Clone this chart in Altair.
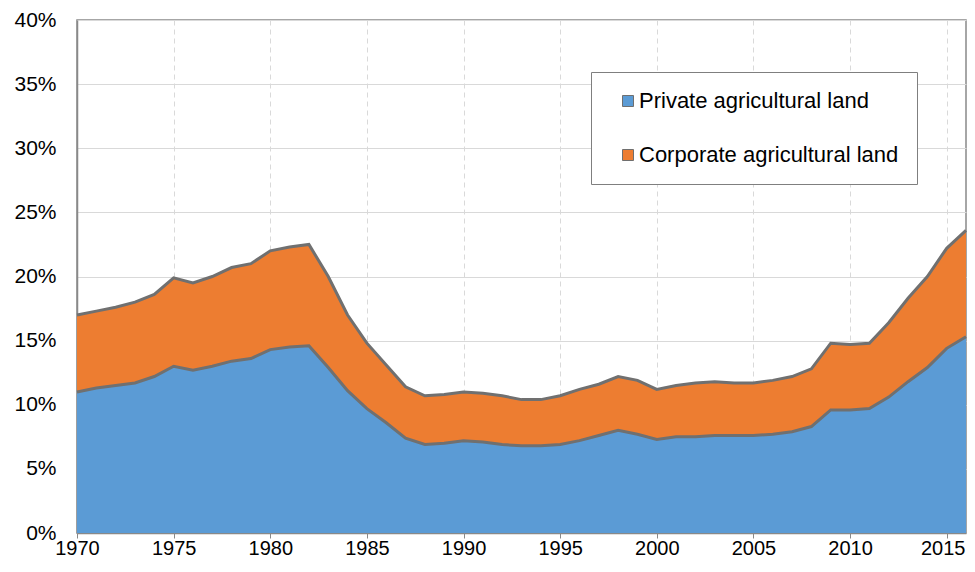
import altair as alt
import pandas as pd

years = list(range(1970, 2017))
private = [11.0, 11.3, 11.5, 11.7, 12.2, 13.0, 12.7, 13.0, 13.4, 13.6,
           14.3, 14.5, 14.6, 12.9, 11.1, 9.7, 8.6, 7.4, 6.9, 7.0,
           7.2, 7.1, 6.9, 6.8, 6.8, 6.9, 7.2, 7.6, 8.0, 7.7,
           7.3, 7.5, 7.5, 7.6, 7.6, 7.6, 7.7, 7.9, 8.3, 9.6,
           9.6, 9.7, 10.6, 11.8, 12.9, 14.4, 15.3]
corporate = [6.0, 6.0, 6.1, 6.3, 6.4, 6.9, 6.8, 7.0, 7.3, 7.4,
             7.7, 7.8, 7.9, 7.1, 5.9, 5.1, 4.5, 4.0, 3.8, 3.8,
             3.8, 3.8, 3.8, 3.6, 3.6, 3.8, 4.0, 4.0, 4.2, 4.2,
             3.9, 4.0, 4.2, 4.2, 4.1, 4.1, 4.2, 4.3, 4.5, 5.2,
             5.1, 5.1, 5.8, 6.5, 7.1, 7.8, 8.3]
series_names = ["Private agricultural land", "Corporate agricultural land"]
series_colors = ["#5B9BD5", "#ED7D31"]
x_ticks = [1970, 1975, 1980, 1985, 1990, 1995, 2000, 2005, 2010, 2015]
y_ticks = [0, 0.05, 0.10, 0.15, 0.20, 0.25, 0.30, 0.35, 0.40]

rows = []
for y, p, c in zip(years, private, corporate):
    rows.append({"year": y, "series": series_names[0], "bottom": 0.0, "top": p / 100})
    rows.append({"year": y, "series": series_names[1], "bottom": p / 100, "top": (p + c) / 100})
df = pd.DataFrame(rows)

font = "Liberation Sans"

x_enc = alt.X("year:Q",
              scale=alt.Scale(domain=[1970, 2016], nice=False, zero=False),
              axis=alt.Axis(values=x_ticks, format="d", title=None,
                            labelFontSize=20, labelFont=font, labelColor="#000000",
                            labelBaseline="alphabetic",
                            labelOffset={"condition": {"test": "datum.value == 2015", "value": -4},
                                         "value": 0},
                            tickSize=5, tickColor="#898989", domainColor="#898989",
                            domainWidth=1.5, labelPadding=16,
                            grid=True, gridDash=[5, 4], gridColor="#d9d9d9",
                            labelFlush=False))

y_axis = alt.Axis(values=y_ticks, format=".0%", title=None,
                  labelFontSize=21, labelFont=font, labelColor="#000000",
                  ticks=False, labelPadding=21, domainColor="#898989", domainWidth=1.5,
                  grid=True, gridColor="#d9d9d9", gridWidth=1)

area = alt.Chart(df).mark_area(opacity=1).encode(
    x=x_enc,
    y=alt.Y("top:Q", scale=alt.Scale(domain=[0, 0.4], nice=False), axis=y_axis),
    y2="bottom:Q",
    color=alt.Color("series:N",
                    scale=alt.Scale(domain=series_names, range=series_colors),
                    sort=series_names,
                    legend=alt.Legend(title=None, orient="none", legendX=514, legendY=52,
                                      labelFont=font, labelFontSize=22, labelColor="#000000",
                                      labelLimit=0,
                                      symbolType="square", symbolSize=121,
                                      symbolStrokeColor="#6f6f6f", symbolStrokeWidth=1,
                                      symbolOffset=8, labelOffset=0,
                                      rowPadding=32, padding=18,
                                      strokeColor="#7f7f7f", fillColor="#ffffff")),
)

lines = alt.Chart(df).mark_line(color="#707070", strokeWidth=3).encode(
    x="year:Q",
    y="top:Q",
    detail="series:N",
)

chart = alt.layer(area, lines).properties(
    width=889, height=513,
    autosize=alt.AutoSizeParams(type="none"),
    padding={"left": 69, "top": 12, "right": 1, "bottom": 25},
).configure_view(stroke="#898989", strokeWidth=1.5)

chart.save("out.html", embed_options={"renderer": "svg", "actions": False})
